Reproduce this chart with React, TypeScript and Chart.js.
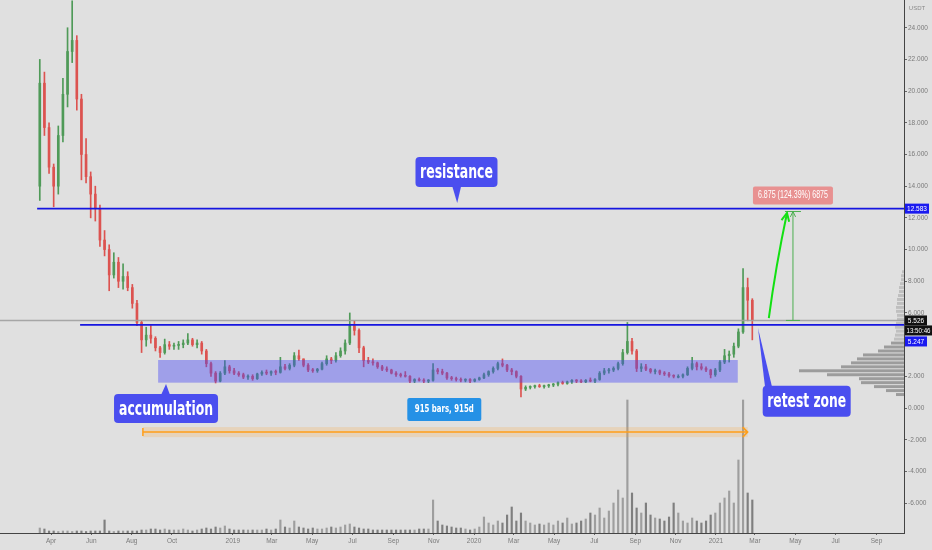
import React, { useEffect, useRef } from "react";
import { Chart, registerables } from "chart.js";

Chart.register(...registerables);

// Weekly bars; x values are days counted from 2018-04-01
const FIRST_BAR_DAY = -17;
const BAR_STEP_DAYS = 7;

const OPEN = [14.0, 20.5, 17.7, 15.2, 14.0, 17.2, 19.8, 22.5, 23.2, 19.5, 16.0, 14.6, 13.5, 12.6, 10.6, 10.0, 8.4, 9.2, 8.0, 8.3,
  7.6, 6.6, 5.4, 4.3, 4.6, 4.4, 3.8, 3.5, 4.0, 3.9, 3.95, 4.0, 4.1, 4.3, 4.0, 4.1, 3.6, 2.8, 2.2, 1.7,
  2.2, 2.6, 2.35, 2.2, 2.1, 1.95, 2.0, 1.85, 2.15, 2.25, 2.2, 2.3, 2.25, 2.6, 2.5, 2.7, 3.3, 3.1, 2.7, 2.4,
  2.35, 2.45, 2.8, 3.1, 3.0, 3.3, 3.6, 4.1, 5.2, 4.9, 3.8, 3.0, 2.9, 2.85, 2.6, 2.45, 2.4, 2.2, 2.1, 2.05,
  2.0, 1.7, 1.8, 1.75, 1.7, 1.75, 2.4, 2.3, 2.2, 1.9, 1.85, 1.8, 1.75, 1.8, 1.7, 1.8, 1.9, 2.1, 2.3, 2.5,
  2.8, 2.7, 2.4, 2.3, 2.0, 1.2, 1.3, 1.35, 1.4, 1.35, 1.4, 1.45, 1.5, 1.6, 1.55, 1.65, 1.75, 1.7, 1.65, 1.75,
  1.7, 1.8, 2.2, 2.35, 2.4, 2.5, 2.8, 3.5, 4.2, 3.6, 2.5, 2.6, 2.45, 2.3, 2.35, 2.2, 2.15, 2.05, 2.0, 2.0,
  2.1, 2.5, 2.8, 2.6, 2.5, 2.4, 2.1, 2.4, 2.9, 3.3, 3.4, 3.9, 4.8, 7.6, 6.8];
const HIGH = [22.0, 21.2, 18.0, 15.4, 17.8, 20.8, 24.0, 25.7, 23.5, 19.8, 17.0, 14.9, 14.0, 12.8, 11.2, 10.3, 9.8, 9.5, 9.1, 8.6,
  7.8, 6.8, 5.5, 5.1, 5.2, 4.5, 3.9, 4.35, 4.2, 4.1, 4.2, 4.3, 4.7, 4.4, 4.3, 4.2, 3.7, 2.9, 2.3, 2.3,
  3.0, 2.7, 2.5, 2.3, 2.2, 2.1, 2.1, 2.2, 2.35, 2.4, 2.35, 2.4, 3.2, 2.75, 2.8, 3.5, 3.66, 3.1, 2.8, 2.5,
  2.5, 2.9, 3.3, 3.2, 3.5, 3.8, 4.3, 6.0, 5.5, 5.0, 3.9, 3.2, 3.1, 2.9, 2.7, 2.6, 2.45, 2.3, 2.2, 2.3,
  2.05, 1.85, 1.9, 1.85, 1.8, 2.8, 2.5, 2.45, 2.25, 2.0, 1.95, 1.9, 1.85, 1.85, 1.85, 1.95, 2.2, 2.35, 2.6, 2.9,
  3.1, 2.75, 2.5, 2.35, 2.05, 1.4, 1.4, 1.45, 1.5, 1.45, 1.5, 1.55, 1.65, 1.7, 1.7, 1.8, 1.8, 1.8, 1.8, 1.9,
  1.85, 2.3, 2.5, 2.5, 2.6, 2.9, 3.7, 5.4, 4.4, 3.7, 2.8, 2.75, 2.5, 2.45, 2.4, 2.3, 2.25, 2.1, 2.1, 2.15,
  2.6, 3.2, 2.9, 2.8, 2.6, 2.45, 2.5, 3.0, 3.7, 3.6, 4.1, 5.0, 8.8, 8.2, 6.9];
const LOW = [13.1, 17.2, 14.8, 12.7, 13.5, 16.8, 19.0, 21.8, 18.8, 14.4, 14.2, 12.0, 11.8, 10.2, 9.6, 7.4, 8.2, 7.6, 7.5, 7.4,
  6.3, 5.2, 3.5, 3.9, 4.1, 3.6, 3.2, 3.4, 3.7, 3.7, 3.7, 3.8, 4.0, 3.9, 3.8, 3.4, 2.6, 2.0, 1.58, 1.65,
  2.1, 2.2, 2.1, 2.0, 1.85, 1.8, 1.75, 1.8, 2.05, 2.1, 2.05, 2.1, 2.2, 2.4, 2.4, 2.6, 3.0, 2.6, 2.3, 2.25,
  2.25, 2.4, 2.7, 2.8, 2.9, 3.2, 3.4, 4.0, 4.6, 3.5, 2.6, 2.8, 2.7, 2.5, 2.35, 2.3, 2.15, 2.0, 1.95, 1.95,
  1.6, 1.6, 1.7, 1.6, 1.6, 1.7, 2.15, 2.1, 1.8, 1.75, 1.7, 1.65, 1.65, 1.6, 1.65, 1.75, 1.85, 2.0, 2.2, 2.4,
  2.6, 2.3, 2.1, 1.9, 0.7, 1.1, 1.2, 1.25, 1.3, 1.25, 1.3, 1.35, 1.4, 1.5, 1.5, 1.55, 1.6, 1.6, 1.6, 1.65,
  1.6, 1.75, 2.1, 2.2, 2.3, 2.4, 2.7, 3.4, 3.4, 2.3, 2.3, 2.35, 2.2, 2.15, 2.1, 2.05, 1.95, 1.9, 1.9, 1.9,
  2.05, 2.4, 2.4, 2.4, 2.3, 1.9, 2.0, 2.3, 2.8, 2.9, 3.2, 3.8, 4.7, 5.5, 4.3];
const CLOSE = [20.5, 17.7, 15.2, 14.0, 17.2, 19.8, 22.5, 23.2, 19.5, 16.0, 14.6, 13.5, 12.6, 10.6, 10.0, 8.4, 9.2, 8.0, 8.3, 7.6,
  6.6, 5.4, 4.3, 4.6, 4.4, 3.8, 3.5, 4.0, 3.9, 3.95, 4.0, 4.1, 4.3, 4.0, 4.1, 3.6, 2.8, 2.2, 1.7, 2.2,
  2.6, 2.35, 2.2, 2.1, 1.95, 2.0, 1.85, 2.15, 2.25, 2.2, 2.3, 2.25, 2.6, 2.5, 2.7, 3.3, 3.1, 2.7, 2.4, 2.35,
  2.45, 2.8, 3.1, 3.0, 3.3, 3.6, 4.1, 5.2, 4.9, 3.8, 3.0, 2.9, 2.85, 2.6, 2.45, 2.4, 2.2, 2.1, 2.05, 2.0,
  1.7, 1.8, 1.75, 1.7, 1.75, 2.4, 2.3, 2.2, 1.9, 1.85, 1.8, 1.75, 1.8, 1.7, 1.8, 1.9, 2.1, 2.3, 2.5, 2.8,
  2.7, 2.4, 2.3, 2.0, 1.2, 1.3, 1.35, 1.4, 1.35, 1.4, 1.45, 1.5, 1.6, 1.55, 1.65, 1.75, 1.7, 1.65, 1.75, 1.7,
  1.8, 2.2, 2.35, 2.4, 2.5, 2.8, 3.5, 4.2, 3.6, 2.5, 2.6, 2.45, 2.3, 2.35, 2.2, 2.15, 2.05, 2.0, 2.0, 2.1,
  2.5, 2.8, 2.6, 2.5, 2.4, 2.1, 2.4, 2.9, 3.3, 3.4, 3.9, 4.8, 7.6, 6.8, 5.526];
const VOLUME = [5, 4, 2, 2, 1.5, 2, 2, 1.5, 2, 2, 1.5, 2, 2, 2, 13, 2, 1.5, 2, 2, 2,
  2, 2, 3, 3, 4, 4, 3, 4, 3, 3, 3, 4, 3, 2, 3, 4, 5, 4, 6, 5,
  7, 4, 3, 3, 3, 3, 3, 3, 3, 4, 3, 4, 13, 6, 5, 12, 6, 5, 4, 5,
  4, 4, 5, 6, 5, 6, 8, 9, 6, 5, 4, 4, 3, 3, 3, 3, 3, 3, 3, 3,
  3, 3, 4, 4, 4, 33, 12, 8, 7, 6, 5, 5, 4, 3, 4, 6, 16, 10, 8, 12,
  10, 18, 26, 12, 20, 12, 10, 8, 9, 8, 10, 8, 12, 10, 15, 9, 10, 12, 14, 20,
  18, 25, 15, 22, 30, 43, 35, 133, 40, 25, 20, 30, 18, 15, 14, 12, 16, 30, 20, 12,
  10, 15, 12, 10, 12, 18, 20, 30, 35, 42, 30, 73, 133, 40, 33];

const X_TICK_DAYS = [0, 61, 122, 183, 275, 334, 395, 456, 518, 579, 640, 700, 761, 822, 884, 945, 1006, 1065, 1126, 1187, 1249];
const X_TICK_LABELS = ["Apr", "Jun", "Aug", "Oct", "2019", "Mar", "May", "Jul", "Sep", "Nov", "2020", "Mar", "May", "Jul", "Sep", "Nov", "2021", "Mar", "May", "Jul", "Sep"];
const Y_TICKS = [-6, -4, -2, 0, 2, 4, 6, 8, 10, 12, 14, 16, 18, 20, 22, 24];

const RESISTANCE_PRICE = 12.583;
const RESISTANCE_START_DAY = -21;
const SUPPORT_PRICE = 5.247;
const SUPPORT_START_DAY = 44;
const LAST_PRICE = 5.526;
const COUNTDOWN = "13:50:46";
const CURRENCY = "USDT";

const ACCUM_DAYS = [162, 1039];
const ACCUM_PRICES = [1.6, 3.03];

const RANGE_DAYS = [139, 1054];
const RANGE_PRICE = -1.52;
const RANGE_LABEL = "915 bars, 915d";

const TARGET_DAY = 1122.5;
const TARGET_PRICES = [5.526, 12.401];
const TARGET_LABEL = "6.875 (124.39%) 6875";
const ARROW_FROM = [1086, 5.68];
const ARROW_TO = [1113.5, 12.31];

const PROFILE_PRICES = [8.6, 8.35, 8.1, 7.85, 7.6, 7.35, 7.1, 6.85, 6.6, 6.35, 6.1, 5.85, 5.6, 5.35, 5.1, 4.85,
  4.6, 4.35, 4.1, 3.85, 3.6, 3.35, 3.1, 2.85, 2.6, 2.35, 2.1, 1.85, 1.6, 1.35, 1.1, 0.85];
const PROFILE_VOLUMES = [2, 3, 3, 4, 5, 5, 6, 7, 7, 8, 8, 7, 7, 8, 9, 8,
  9, 10, 13, 20, 26, 41, 47, 53, 63, 105, 77, 45, 43, 30, 18, 8];

const CALLOUT_TEXTS = ["resistance", "accumulation", "retest zone"];
const CALLOUT_DAYS = [614.5, 174, 1069.6];
const CALLOUT_PRICES = [12.94, 1.51, 5.05];

// ---- styles ----
const BG = "#e0e0e0";
const UP = "#4f9a58";
const DOWN = "#dc5350";
const LINE_BLUE = "#1616e0";
const CALLOUT_BG = "#4a4eef";
const FONT = '"Liberation Sans", Arial, sans-serif';
const NARROW = '"Liberation Sans Narrow", "DejaVu Sans Condensed", "Liberation Sans", sans-serif';
// box geometry relative to pointer tip: [left, top, right, bottom], pointer base [x1, x2], text width, pointer on top?
const CALLOUT_GEOM = [
  { box: [-41.7, -46, 40.3, -16], base: [-5, 4], textW: 73, top: false },
  { box: [-52, 10, 52, 39], base: [-5, 4], textW: 94, top: true },
  { box: [4.7, 57.7, 92.7, 88.7], base: [7, 14], textW: 79, top: true },
];

function fitText(ctx: CanvasRenderingContext2D, text: string, cx: number, cy: number, w: number) {
  const m = ctx.measureText(text).width;
  const k = w / m;
  ctx.save();
  ctx.translate(cx, cy);
  ctx.scale(k, 1);
  ctx.textAlign = "center";
  ctx.textBaseline = "middle";
  ctx.fillText(text, 0, 0);
  ctx.restore();
}

function arrowHead(ctx: CanvasRenderingContext2D, x1: number, y1: number, x2: number, y2: number, len: number) {
  const a = Math.atan2(y2 - y1, x2 - x1);
  ctx.beginPath();
  ctx.moveTo(x2 - len * Math.cos(a - 0.45), y2 - len * Math.sin(a - 0.45));
  ctx.lineTo(x2, y2);
  ctx.lineTo(x2 - len * Math.cos(a + 0.45), y2 - len * Math.sin(a + 0.45));
  ctx.stroke();
}

const bgPlugin = {
  id: "bg",
  beforeDraw(chart: any) {
    const ctx = chart.ctx;
    ctx.save();
    ctx.fillStyle = BG;
    ctx.fillRect(0, 0, chart.width, chart.height);
    ctx.restore();
  },
};

const annotPlugin = {
  id: "annot",
  afterDraw(chart: any) {
    const ctx: CanvasRenderingContext2D = chart.ctx;
    const xs = chart.scales.x;
    const ys = chart.scales.y;
    const X = (d: number) => xs.getPixelForValue(d);
    const Y = (p: number) => ys.getPixelForValue(p);
    const area = chart.chartArea;
    ctx.save();

    // volume profile
    const maxV = Math.max(...PROFILE_VOLUMES);
    PROFILE_PRICES.forEach((p, i) => {
      const y1 = Y(p + 0.125);
      const y2 = Y(p - 0.125);
      const w = (PROFILE_VOLUMES[i] / maxV) * 105;
      ctx.fillStyle = p > 4.2 ? "rgba(150,150,150,0.45)" : "rgba(115,115,115,0.62)";
      ctx.fillRect(area.right - w, y1 + 0.5, w, y2 - y1 - 1);
    });

    // accumulation box
    ctx.fillStyle = "rgba(70,70,245,0.42)";
    ctx.fillRect(X(ACCUM_DAYS[0]), Y(ACCUM_PRICES[1]), X(ACCUM_DAYS[1]) - X(ACCUM_DAYS[0]), Y(ACCUM_PRICES[0]) - Y(ACCUM_PRICES[1]));

    // last price line
    ctx.strokeStyle = "rgba(160,160,160,0.9)";
    ctx.lineWidth = 1.5;
    ctx.beginPath();
    ctx.moveTo(area.left, Y(LAST_PRICE));
    ctx.lineTo(area.right, Y(LAST_PRICE));
    ctx.stroke();

    // horizontal blue lines
    ctx.strokeStyle = LINE_BLUE;
    ctx.lineWidth = 1.6;
    ctx.beginPath();
    ctx.moveTo(X(RESISTANCE_START_DAY), Y(RESISTANCE_PRICE));
    ctx.lineTo(area.right, Y(RESISTANCE_PRICE));
    ctx.moveTo(X(SUPPORT_START_DAY), Y(SUPPORT_PRICE));
    ctx.lineTo(area.right, Y(SUPPORT_PRICE));
    ctx.stroke();

    // date range
    const rx1 = X(RANGE_DAYS[0]);
    const rx2 = X(RANGE_DAYS[1]);
    const ry = Y(RANGE_PRICE);
    ctx.fillStyle = "rgba(255,160,40,0.2)";
    ctx.fillRect(rx1, ry - 5, rx2 - rx1, 10);
    ctx.strokeStyle = "#ff9f1a";
    ctx.lineWidth = 1.5;
    ctx.beginPath();
    ctx.moveTo(rx1, ry);
    ctx.lineTo(rx2, ry);
    ctx.moveTo(rx1, ry - 4);
    ctx.lineTo(rx1, ry + 4);
    ctx.moveTo(rx2 - 5, ry - 5);
    ctx.lineTo(rx2, ry);
    ctx.lineTo(rx2 - 5, ry + 5);
    ctx.stroke();
    const lcx = (rx1 + rx2) / 2 - 1;
    ctx.fillStyle = "#2591e6";
    ctx.beginPath();
    ctx.roundRect(lcx - 37, ry - 34, 74, 23, 2);
    ctx.fill();
    ctx.fillStyle = "#ffffff";
    ctx.font = "bold 11px " + NARROW;
    fitText(ctx, RANGE_LABEL, lcx, ry - 22.5, 59);

    // price range measure
    const tx = X(TARGET_DAY);
    const ty1 = Y(TARGET_PRICES[0]);
    const ty2 = Y(TARGET_PRICES[1]);
    ctx.strokeStyle = "#4caf50";
    ctx.lineWidth = 1;
    ctx.beginPath();
    ctx.moveTo(tx, ty1);
    ctx.lineTo(tx, ty2);
    ctx.moveTo(tx - 7, ty1);
    ctx.lineTo(tx + 7, ty1);
    ctx.moveTo(tx - 8, ty2);
    ctx.lineTo(tx + 8, ty2);
    ctx.stroke();
    arrowHead(ctx, tx, ty1, tx, ty2, 6);
    ctx.fillStyle = "rgba(238,80,80,0.55)";
    ctx.beginPath();
    ctx.roundRect(tx - 40, ty2 - 25, 80, 18, 2);
    ctx.fill();
    ctx.fillStyle = "#ffffff";
    ctx.font = "10px " + FONT;
    fitText(ctx, TARGET_LABEL, tx, ty2 - 16, 70);

    // green arrow
    const ax1 = X(ARROW_FROM[0]);
    const ay1 = Y(ARROW_FROM[1]);
    const ax2 = X(ARROW_TO[0]);
    const ay2 = Y(ARROW_TO[1]);
    ctx.strokeStyle = "#12e012";
    ctx.lineWidth = 2;
    ctx.beginPath();
    ctx.moveTo(ax1, ay1);
    ctx.quadraticCurveTo(ax1 + 7, (ay1 + ay2) / 2, ax2, ay2);
    ctx.stroke();
    arrowHead(ctx, ax1 + 7, (ay1 + ay2) / 2, ax2, ay2, 9);

    // callouts
    CALLOUT_TEXTS.forEach((t, i) => {
      const g = CALLOUT_GEOM[i];
      const px = X(CALLOUT_DAYS[i]);
      const py = Y(CALLOUT_PRICES[i]);
      const l = px + g.box[0];
      const tp = py + g.box[1];
      const r = px + g.box[2];
      const b = py + g.box[3];
      ctx.fillStyle = CALLOUT_BG;
      ctx.beginPath();
      ctx.roundRect(l, tp, r - l, b - tp, 4);
      ctx.fill();
      const by = g.top ? tp + 1 : b - 1;
      ctx.beginPath();
      ctx.moveTo(px + g.base[0], by);
      ctx.lineTo(px + g.base[1], by);
      ctx.lineTo(px, py);
      ctx.closePath();
      ctx.fill();
      ctx.fillStyle = "#ffffff";
      ctx.font = "bold 20px " + NARROW;
      fitText(ctx, t, (l + r) / 2, (tp + b) / 2 + 1, g.textW);
    });

    // axis labels
    const ax = area.right + 1;
    const lab = (text: string, y: number, bg: string, w: number) => {
      ctx.fillStyle = bg;
      ctx.fillRect(ax, y - 5, w, 10);
      ctx.fillStyle = "#ffffff";
      ctx.font = "6.5px " + FONT;
      fitText(ctx, text, ax + w / 2, y + 0.5, Math.min(ctx.measureText(text).width, w - 3));
    };
    lab(RESISTANCE_PRICE.toFixed(3), Y(RESISTANCE_PRICE), "#1a1af0", 24);
    const ly = Y(LAST_PRICE);
    lab(LAST_PRICE.toFixed(3), ly, "#111111", 22);
    lab(COUNTDOWN, ly + 10, "#111111", 27);
    lab(SUPPORT_PRICE.toFixed(3), ly + 21, "#1a1af0", 22);

    ctx.fillStyle = "#8a8a8a";
    ctx.font = "6px " + FONT;
    ctx.textAlign = "center";
    ctx.textBaseline = "middle";
    ctx.fillText(CURRENCY, area.right + 13, 8);
    ctx.restore();
  },
};

export default function App() {
  const ref = useRef<HTMLCanvasElement>(null);
  useEffect(() => {
    document.body.style.margin = "0";
    const days = OPEN.map((_, i) => FIRST_BAR_DAY + BAR_STEP_DAYS * i);
    const colors = OPEN.map((o, i) => (CLOSE[i] >= o ? UP : DOWN));
    const chart = new Chart(ref.current as HTMLCanvasElement, {
      type: "bar",
      data: {
        datasets: [
          {
            label: "Volume",
            data: days.map((d, i) => ({ x: d, y: VOLUME[i] })),
            yAxisID: "yv",
            backgroundColor: OPEN.map((o, i) => (CLOSE[i] >= o ? "rgba(130,130,130,0.7)" : "rgba(85,85,85,0.7)")),
            barThickness: 1.5,
            grouped: false,
            order: 3,
          } as any,
          {
            label: "Wick",
            data: days.map((d, i) => ({ x: d, y: [LOW[i], HIGH[i]] })),
            yAxisID: "y",
            backgroundColor: colors,
            barThickness: 1,
            grouped: false,
            order: 2,
          } as any,
          {
            label: "Body",
            data: days.map((d, i) => ({ x: d, y: [Math.min(OPEN[i], CLOSE[i]), Math.max(OPEN[i], CLOSE[i])] })),
            yAxisID: "y",
            backgroundColor: colors,
            barThickness: 2,
            minBarLength: 1,
            grouped: false,
            order: 1,
          } as any,
        ],
      },
      options: {
        animation: false,
        responsive: false,
        events: [],
        layout: { padding: 0 },
        plugins: { legend: { display: false }, tooltip: { enabled: false } },
        scales: {
          x: {
            type: "linear",
            min: -77.2,
            max: 1290.5,
            offset: false,
            grid: { display: true, drawOnChartArea: false, drawTicks: true, tickLength: 2, color: "#666", offset: false },
            border: { display: true, color: "#444", width: 1 },
            ticks: {
              autoSkip: false,
              maxRotation: 0,
              padding: 2,
              color: "#7a7a7a",
              font: { size: 6.5, family: FONT },
              callback: (_v: any, idx: number) => X_TICK_LABELS[idx],
            },
            afterBuildTicks: (s: any) => {
              s.ticks = X_TICK_DAYS.map((v) => ({ value: v }));
            },
            afterFit: (s: any) => {
              s.height = 17;
              s.paddingLeft = 0;
              s.paddingRight = 0;
            },
          } as any,
          y: {
            type: "linear",
            position: "right",
            min: -7.888,
            max: 25.75,
            grid: { display: true, drawOnChartArea: false, drawTicks: true, tickLength: 3, color: "#666" },
            border: { display: true, color: "#444", width: 1 },
            ticks: {
              padding: 1,
              color: "#7a7a7a",
              font: { size: 6.5, family: FONT },
              callback: (v: any) => Number(v).toFixed(3),
            },
            afterBuildTicks: (s: any) => {
              s.ticks = Y_TICKS.map((v) => ({ value: v }));
            },
            afterFit: (s: any) => {
              s.width = 28;
              s.paddingTop = 0;
              s.paddingBottom = 0;
            },
          } as any,
          yv: {
            type: "linear",
            display: false,
            min: 0,
            max: 533,
          },
        },
      },
      plugins: [bgPlugin, annotPlugin],
    } as any);
    return () => chart.destroy();
  }, []);
  return (
    <div style={{ position: "fixed", left: 0, top: 0, width: 932, height: 550, background: BG }}>
      <canvas ref={ref} width={932} height={550} style={{ display: "block", width: 932, height: 550 }} />
    </div>
  );
}
